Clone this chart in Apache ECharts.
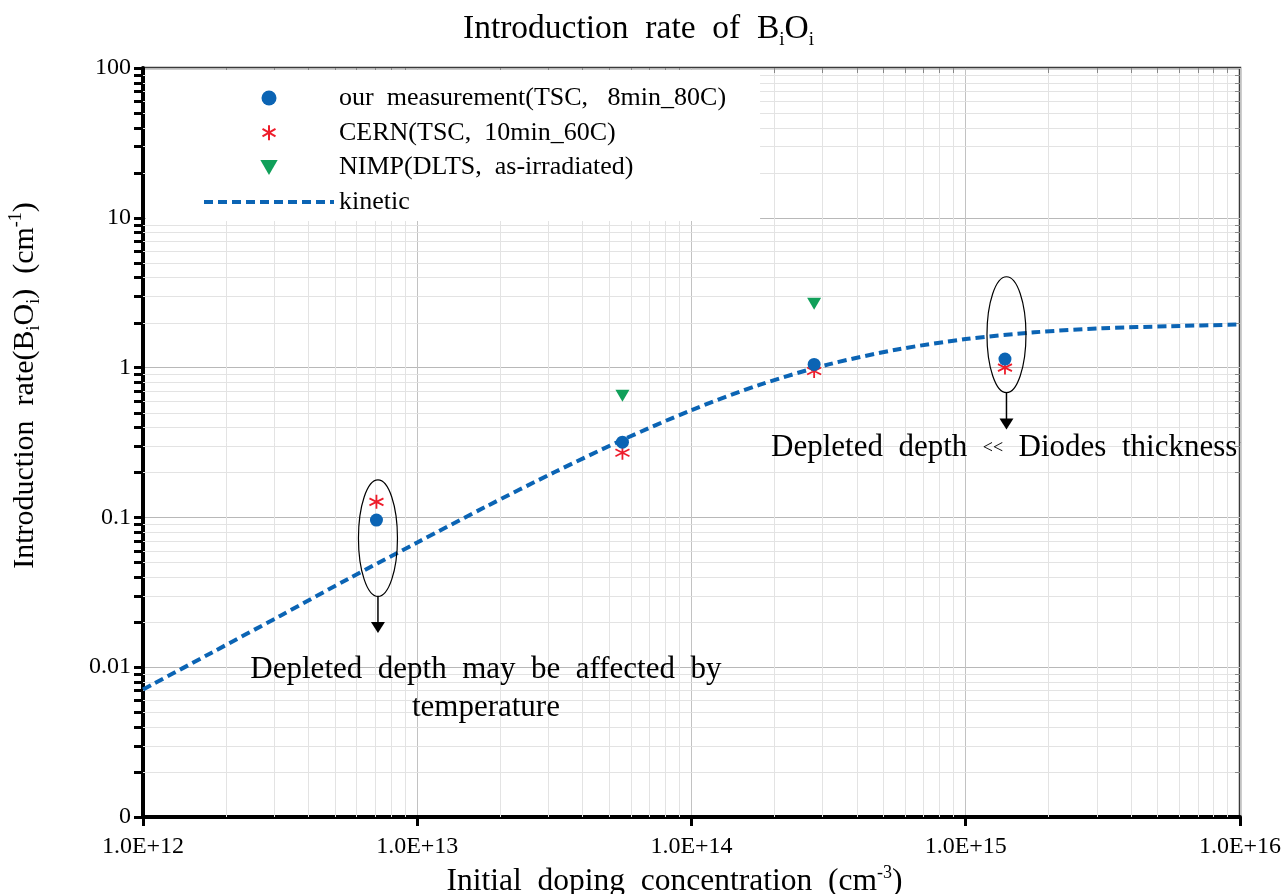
<!DOCTYPE html>
<html>
<head>
<meta charset="utf-8">
<script src="https://cdn.jsdelivr.net/npm/echarts@6/dist/echarts.min.js"></script>
<style>
  html, body { margin: 0; padding: 0; background: #fff; }
  #chart { width: 1287px; height: 894px; }
</style>
</head>
<body>
<div id="chart"></div>
<script>
// Initial doping concentration (cm^-3) of the measured diodes
const dopingTSC = [7.1e12, 5.6e13, 2.8e14, 1.39e15];
// BiOi introduction rate (cm^-1)
const rateOurs = [0.096, 0.318, 1.05, 1.14];
const rateCERN = [0.127, 0.27, 0.95, 1.0];
const dopingNIMP = [5.6e13, 2.8e14];
const rateNIMP = [0.65, 2.67];

// Kinetic model, read every quarter decade
const kineticDoping = [1e12, 1.78e12, 3.16e12, 5.62e12, 1e13, 1.78e13, 3.16e13, 5.62e13,
  1e14, 1.78e14, 3.16e14, 5.62e14, 1e15, 1.78e15, 3.16e15, 5.62e15, 1e16];
const kineticRate = [0.0071, 0.0125, 0.022, 0.039, 0.068, 0.118, 0.20, 0.33,
  0.52, 0.77, 1.05, 1.32, 1.55, 1.72, 1.83, 1.89, 1.94];

// Tick labels, one per decade
const xTickLabels = ['1.0E+12', '1.0E+13', '1.0E+14', '1.0E+15', '1.0E+16'];
const yTickLabels = ['0', '0.01', '0.1', '1', '10', '100'];

const seriesNames = ['our  measurement(TSC,   8min_80C)', 'CERN(TSC,  10min_60C)',
  'NIMP(DLTS,  as-irradiated)', 'kinetic'];

const X_MIN = 1e12, X_MAX = 1e16, Y_MIN = 1e-3, Y_MAX = 100;
const SERIF = "'Liberation Serif', 'Times New Roman', serif";
const BLUE = '#0b64b4', RED = '#ee1d2b', GREEN = '#10a05a';

// Positions of the 2..9 minor grid lines inside each decade
function minorValues(fromExp, toExp) {
  const out = [];
  for (let e = fromExp; e < toExp; e++) {
    for (let m = 2; m <= 9; m++) out.push(m * Math.pow(10, e));
  }
  return out;
}
const xMinor = minorValues(12, 16);
const yMinor = minorValues(-3, 2);

function nameRich(size) {
  return {
    t: { fontFamily: SERIF, fontSize: size, fontWeight: 'normal', color: '#000', lineHeight: 36 },
    s: { fontFamily: SERIF, fontSize: 18, fontWeight: 'normal', color: '#000', verticalAlign: 'bottom', lineHeight: 18 },
    p: { fontFamily: SERIF, fontSize: 18, fontWeight: 'normal', color: '#000', verticalAlign: 'top', lineHeight: 18 }
  };
}

const chart = echarts.init(document.getElementById('chart'));

const option = {
  animation: false,
  backgroundColor: '#fff',
  title: {
    text: '{t|Introduction  rate  of  B}{s|i}{t|O}{s|i}',
    left: 458, top: 3,
    textStyle: { fontWeight: 'normal', rich: {
      t: { fontFamily: SERIF, fontSize: 33.5, fontWeight: 'normal', color: '#000', lineHeight: 42 },
      s: { fontFamily: SERIF, fontSize: 19, fontWeight: 'normal', color: '#000', verticalAlign: 'bottom', lineHeight: 16 }
    } }
  },
  grid: {
    left: 143, right: 47, top: 68, bottom: 77,
    outerBoundsMode: 'none', containLabel: false,
    show: true, borderColor: '#3a3a3a', borderWidth: 2.5, backgroundColor: 'transparent'
  },
  legend: {
    orient: 'vertical', left: 146, top: 70,
    padding: [15, 34, 6, 56],
    backgroundColor: '#fff',
    itemWidth: 130, itemHeight: 15, itemGap: 8.7,
    selectedMode: false,
    textStyle: { fontFamily: SERIF, fontSize: 26, color: '#000', lineHeight: 24 },
    data: [
      seriesNames[0], seriesNames[1], seriesNames[2],
      { name: seriesNames[3], itemStyle: { color: 'rgba(0,0,0,0)', borderWidth: 0, opacity: 0 },
        lineStyle: { color: BLUE, width: 4, type: [9, 5], opacity: 1 } }
    ]
  },
  xAxis: {
    type: 'log', logBase: 10, min: X_MIN, max: X_MAX,
    name: '{t|Initial  doping  concentration  (cm}{p|-3}{t|)}',
    nameLocation: 'middle', nameGap: 46,
    nameTextStyle: { rich: nameRich(31.5), padding: [0, 34, 0, 0] },
    axisLine: { lineStyle: { color: '#000', width: 4 } },
    axisTick: { inside: false, length: 9, lineStyle: { color: '#000', width: 3 } },
    axisLabel: {
      margin: 18, fontFamily: SERIF, fontSize: 24, color: '#000',
      formatter: v => xTickLabels[Math.round(Math.log10(v)) - 12]
    },
    splitLine: { show: true, lineStyle: { color: '#c2c2c2', width: 1 } }
  },
  yAxis: {
    type: 'log', logBase: 10, min: Y_MIN, max: Y_MAX,
    name: '{t|Introduction  rate(B}{s|i}{t|O}{s|i}{t|)  (cm}{p|-1}{t|)}',
    nameLocation: 'middle', nameGap: 100,
    nameTextStyle: { rich: nameRich(30), padding: [0, 0, 0, 114] },
    axisLine: { lineStyle: { color: '#000', width: 4 } },
    axisTick: { inside: false, length: 9, lineStyle: { color: '#000', width: 3 } },
    axisLabel: {
      margin: 12, fontFamily: SERIF, fontSize: 24, color: '#000',
      formatter: v => yTickLabels[Math.round(Math.log10(v)) + 3]
    },
    splitLine: { show: true, lineStyle: { color: '#b8b8b8', width: 1 } }
  },
  series: [
    {
      // vertical minor grid lines and the small inner ticks along the top frame
      type: 'custom', name: 'x minor grid', silent: true, z: 1,
      data: xMinor.map(v => [v, Y_MIN]),
      encode: { x: 0, y: 1 },
      renderItem: (params, api) => {
        const v = api.value(0);
        const b = api.coord([v, Y_MIN]);
        const t = api.coord([v, Y_MAX]);
        const x = Math.round(b[0]) + 0.5;
        return { type: 'group', children: [
          { type: 'line', shape: { x1: x, y1: b[1], x2: x, y2: t[1] }, style: { stroke: '#e3e3e3', lineWidth: 1 } },
          { type: 'line', shape: { x1: x, y1: t[1], x2: x, y2: t[1] + 5 }, style: { stroke: '#888', lineWidth: 1 } }
        ] };
      }
    },
    {
      // horizontal minor grid lines, outer ticks on the left axis, inner ticks on the right frame
      type: 'custom', name: 'y minor grid', silent: true, z: 1,
      data: yMinor.map(v => [X_MIN, v]),
      encode: { x: 0, y: 1 },
      renderItem: (params, api) => {
        const v = api.value(1);
        const l = api.coord([X_MIN, v]);
        const r = api.coord([X_MAX, v]);
        const y = Math.round(l[1]) + 0.5;
        return { type: 'group', children: [
          { type: 'line', shape: { x1: l[0], y1: y, x2: r[0], y2: y }, style: { stroke: '#e3e3e3', lineWidth: 1 } },
          { type: 'line', shape: { x1: l[0] - 9, y1: y, x2: l[0], y2: y }, style: { stroke: '#000', lineWidth: 3 } },
          { type: 'line', shape: { x1: r[0] - 5, y1: y, x2: r[0], y2: y }, style: { stroke: '#888', lineWidth: 1 } }
        ] };
      }
    },
    {
      name: seriesNames[3], type: 'line', z: 3,
      data: kineticDoping.map((x, i) => [x, kineticRate[i]]),
      symbol: 'none', smooth: 0.3,
      lineStyle: { color: BLUE, width: 4, type: [9, 5] },
      itemStyle: { color: BLUE }
    },
    {
      name: seriesNames[2], type: 'scatter', z: 4,
      data: dopingNIMP.map((x, i) => [x, rateNIMP[i]]),
      symbol: 'path://M0 0 L10 0 L5 8.66 Z', symbolSize: [14, 12],
      itemStyle: { color: GREEN, opacity: 1 }
    },
    {
      name: seriesNames[1], type: 'scatter', z: 4,
      data: dopingTSC.map((x, i) => [x, rateCERN[i]]),
      symbol: 'path://M5 0 L5 10 M0.67 2.5 L9.33 7.5 M0.67 7.5 L9.33 2.5', symbolSize: 14,
      itemStyle: { color: 'rgba(0,0,0,0)', borderColor: RED, borderWidth: 1.8, opacity: 1 }
    },
    {
      name: seriesNames[0], type: 'scatter', z: 5,
      data: dopingTSC.map((x, i) => [x, rateOurs[i]]),
      symbol: 'circle', symbolSize: 13,
      itemStyle: { color: BLUE, opacity: 1 }
    }
  ]
};

chart.setOption(option);

// Callouts: an ellipse around the low / high doping points with an arrow to the note
const callouts = [
  { x: dopingTSC[0], top: 0.178, bottom: 0.0297, tip: 0.0169 },
  { x: dopingTSC[3], top: 4.04, bottom: 0.68, tip: 0.386 }
];
const notes = [
  { x: 1.78e13, y: 0.0072, align: 'center',
    text: '{t|Depleted  depth  may  be  affected  by}\n{t|temperature}' },
  { x: 1.95e14, y: 0.29, align: 'left',
    text: '{t|Depleted  depth  }{m|<<}{t|  Diodes  thickness}' }
];

const px = (x, y) => chart.convertToPixel({ gridIndex: 0 }, [x, y]);
const graphics = [];
callouts.forEach(c => {
  const t = px(c.x, c.top), b = px(c.x, c.bottom), tip = px(c.x, c.tip);
  const cx = t[0] + 1.5;
  graphics.push({ type: 'ellipse', z: 10, silent: true,
    shape: { cx: cx, cy: (t[1] + b[1]) / 2, rx: 19.5, ry: (b[1] - t[1]) / 2 },
    style: { fill: 'none', stroke: '#000', lineWidth: 1.2 } });
  graphics.push({ type: 'line', z: 10, silent: true,
    shape: { x1: cx, y1: b[1], x2: cx, y2: tip[1] - 10 },
    style: { stroke: '#000', lineWidth: 1.5 } });
  graphics.push({ type: 'polygon', z: 10, silent: true,
    shape: { points: [[cx - 7, tip[1] - 11], [cx + 7, tip[1] - 11], [cx, tip[1]]] },
    style: { fill: '#000' } });
});
notes.forEach(n => {
  const p = px(n.x, n.y);
  graphics.push({ type: 'text', z: 10, silent: true, x: p[0], y: p[1],
    style: { text: n.text, rich: {
      t: { fontFamily: SERIF, fontSize: 31, color: '#000', lineHeight: 38 },
      m: { fontFamily: SERIF, fontSize: 18, color: '#000', lineHeight: 38 }
    }, align: n.align, verticalAlign: 'middle' } });
});
chart.setOption({ graphic: graphics });
</script>
</body>
</html>
